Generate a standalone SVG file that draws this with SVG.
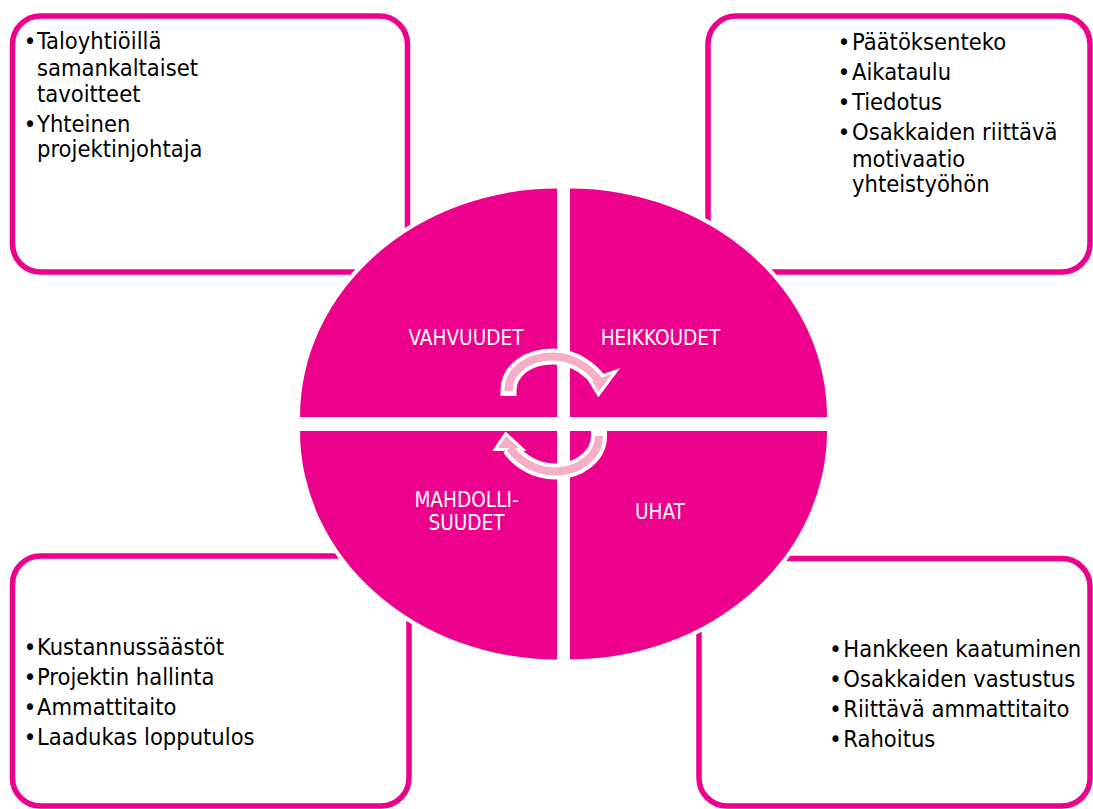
<svg xmlns="http://www.w3.org/2000/svg" width="1093" height="809" viewBox="0 0 1093 809">
<style>
.box{fill:#FFFFFF;stroke:#EC008C;stroke-width:5.5}
.quad{fill:#EC008C;stroke:#FFFFFF;stroke-width:8;paint-order:stroke}
.lbl{font-family:"DejaVu Sans Condensed","DejaVu Sans",sans-serif;font-stretch:condensed;font-size:20.6px;fill:#FFFFFF;text-anchor:middle}
.txt{font-family:"DejaVu Sans Condensed","DejaVu Sans",sans-serif;font-stretch:condensed;font-size:23.5px;fill:#000000}
.bul{text-anchor:middle}
.aw{fill:none;stroke:#FFFFFF;stroke-width:16}
.ap{fill:none;stroke:#F4AEC8;stroke-width:8}
.hw{fill:#FFFFFF;stroke:#FFFFFF;stroke-width:6;stroke-linejoin:miter}
.hp{fill:#F4AEC8}
</style>
<rect width="1093" height="809" fill="#FFFFFF"/>
<g id="box-strengths">
<rect class="box" x="12.5" y="16" width="395" height="256" rx="28"/>
<text class="txt"><tspan class="bul" x="30" y="49">•</tspan><tspan x="37" y="49">Taloyhtiöillä</tspan><tspan x="37" y="76">samankaltaiset</tspan><tspan x="37" y="102">tavoitteet</tspan><tspan class="bul" x="30" y="132">•</tspan><tspan x="37" y="132">Yhteinen</tspan><tspan x="37" y="157">projektinjohtaja</tspan></text>
</g>
<g id="box-weaknesses">
<rect class="box" x="708" y="16" width="382" height="256" rx="28"/>
<text class="txt"><tspan class="bul" x="844" y="50">•</tspan><tspan x="852" y="50">Päätöksenteko</tspan><tspan class="bul" x="844" y="80">•</tspan><tspan x="852" y="80">Aikataulu</tspan><tspan class="bul" x="844" y="110">•</tspan><tspan x="852" y="110">Tiedotus</tspan><tspan class="bul" x="844" y="140">•</tspan><tspan x="852" y="140">Osakkaiden riittävä</tspan><tspan x="852" y="166.5">motivaatio</tspan><tspan x="852" y="192">yhteistyöhön</tspan></text>
</g>
<g id="box-opportunities">
<rect class="box" x="12.5" y="556" width="396.5" height="250" rx="28"/>
<text class="txt"><tspan class="bul" x="30" y="655">•</tspan><tspan x="37" y="655">Kustannussäästöt</tspan><tspan class="bul" x="30" y="685">•</tspan><tspan x="37" y="685">Projektin hallinta</tspan><tspan class="bul" x="30" y="715">•</tspan><tspan x="37" y="715">Ammattitaito</tspan><tspan class="bul" x="30" y="744.5">•</tspan><tspan x="37" y="744.5">Laadukas lopputulos</tspan></text>
</g>
<g id="box-threats">
<rect class="box" x="699" y="558.5" width="391" height="247.5" rx="28"/>
<text class="txt"><tspan class="bul" x="835.5" y="656.7">•</tspan><tspan x="843.3" y="656.7">Hankkeen kaatuminen</tspan><tspan class="bul" x="835.5" y="686.7">•</tspan><tspan x="843.3" y="686.7">Osakkaiden vastustus</tspan><tspan class="bul" x="835.5" y="716.7">•</tspan><tspan x="843.3" y="716.7">Riittävä ammattitaito</tspan><tspan class="bul" x="835.5" y="746.7">•</tspan><tspan x="843.3" y="746.7">Rahoitus</tspan></text>
</g>
<g id="quad-vahvuudet">
<path class="quad" d="M557,417 L300,417 A257,228.5 0 0 1 557,188.5 Z"/>
<text class="lbl" x="466" y="345">VAHVUUDET</text>
</g>
<g id="quad-heikkoudet">
<path class="quad" d="M570,417 L570,188.5 A257,228.5 0 0 1 827,417 Z"/>
<text class="lbl" x="660.5" y="345">HEIKKOUDET</text>
</g>
<g id="quad-mahdollisuudet">
<path class="quad" d="M557,431 L557,659.5 A257,228.5 0 0 1 300,431 Z"/>
<text class="lbl" x="466.5" y="506.7">MAHDOLLI-</text>
<text class="lbl" x="466.5" y="530">SUUDET</text>
</g>
<g id="quad-uhat">
<path class="quad" d="M570,431 L827,431 A257,228.5 0 0 1 570,659.5 Z"/>
<text class="lbl" x="660" y="519">UHAT</text>
</g>
<g id="connectors">
<g id="arrow-top">
<path class="aw" d="M508.5,396 L508.5,391 C508.5,371 527,356.5 553,356.5 C578,356.5 594,374 600,382"/>
<polygon class="hw" points="592,381 612,374 598.5,392"/>
<path class="ap" d="M508.5,391 C508.5,371 527,356.5 553,356.5 C578,356.5 594,374 600,382"/>
<polygon class="hp" points="592,381 612,374 598.5,392"/>
</g>
<g id="arrow-bottom">
<path class="aw" d="M599,431 L599,436 C599,456 579,471.5 555,471.5 C535,471.5 518,460 510,448"/>
<polygon class="hw" points="498,448 506,436 519,448"/>
<path class="ap" d="M599,436 C599,456 579,471.5 555,471.5 C535,471.5 518,460 510,448"/>
<polygon class="hp" points="498,448 506,436 519,448"/>
</g>
</g>
</svg>
